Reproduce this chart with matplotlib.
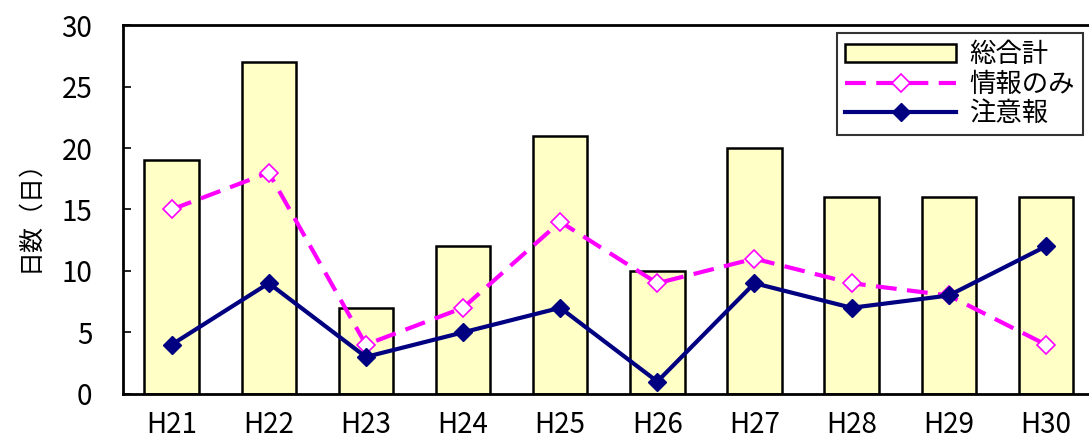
import matplotlib
matplotlib.use("Agg")
import matplotlib.pyplot as plt
import numpy as np

plt.rcParams['font.family'] = ['Noto Sans CJK JP', 'DejaVu Sans']

categories = ["H21", "H22", "H23", "H24", "H25", "H26", "H27", "H28", "H29", "H30"]
total = [19, 27, 7, 12, 21, 10, 20, 16, 16, 16]
info_only = [15, 18, 4, 7, 14, 9, 11, 9, 8, 4]
advisory = [4, 9, 3, 5, 7, 1, 9, 7, 8, 12]

fig = plt.figure(figsize=(10.89, 4.41), dpi=100)
ax = fig.add_axes([0.113, 0.107, 0.892, 0.836])

x = np.arange(len(categories))
bars = ax.bar(x, total, width=0.56, color='#FFFFC6', edgecolor='black', linewidth=1.8, label='総合計', zorder=2)
l1, = ax.plot(x, info_only, color='#FF00FF', linestyle=(0, (5, 2.5)), linewidth=3,
              marker='D', markersize=9, markerfacecolor='white', markeredgecolor='#FF00FF',
              markeredgewidth=1.2, label='情報のみ', zorder=3)
l2, = ax.plot(x, advisory, color='#000080', linewidth=3,
              marker='D', markersize=9, markerfacecolor='#000080', markeredgecolor='#000080',
              label='注意報', zorder=4)

ax.set_xlim(-0.5, 9.5)
ax.set_ylim(0, 30)
ax.set_yticks(range(0, 31, 5))
ax.set_xticks(x)
ax.set_xticklabels(categories)
ax.tick_params(axis='y', direction='in', length=6, width=1.2, labelsize=20, pad=22)
ax.tick_params(axis='x', length=0, labelsize=20, pad=12)
for s in ax.spines.values():
    s.set_linewidth(2)
ax.set_ylabel('日数（日）', fontsize=18, labelpad=14)

leg = ax.legend(handles=[bars, l1, l2], loc='upper right', bbox_to_anchor=(0.988, 0.978),
                borderaxespad=0,
                fontsize=19, frameon=True, fancybox=False, edgecolor='black',
                handlelength=4.2, borderpad=0.3, labelspacing=0.1, handletextpad=0.5)
leg.get_frame().set_linewidth(1.5)

fig.savefig('out.png', dpi=100)
